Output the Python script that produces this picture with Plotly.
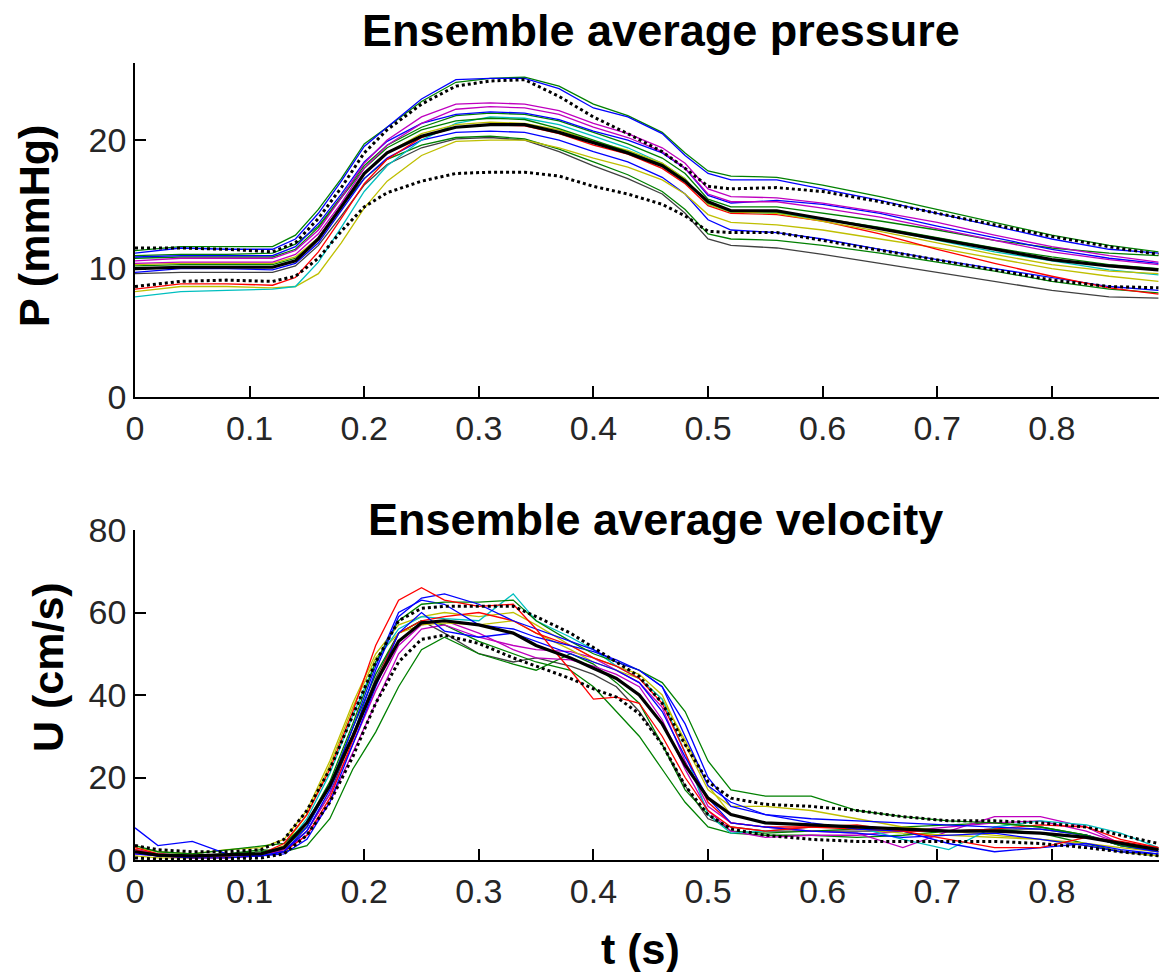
import plotly.graph_objects as go

# ---------------- data ----------------
# time grid for pressure curves (s)
t_p = [0, 0.04, 0.08, 0.12, 0.14, 0.16, 0.18, 0.20, 0.22, 0.25, 0.28, 0.31, 0.34, 0.37,
       0.40, 0.43, 0.46, 0.48, 0.50, 0.52, 0.56, 0.60, 0.65, 0.70, 0.75, 0.80, 0.85, 0.893]

p_blue1 = [11.2, 11.6, 11.5, 11.5, 12.3, 14.3, 16.8, 19.5, 21.0, 23.2, 24.7, 24.8, 24.8, 24.0,
           22.5, 21.8, 20.5, 18.8, 17.4, 16.9, 16.9, 16.2, 15.3, 14.3, 13.3, 12.3, 11.5, 11.2]
p_green1 = [11.4, 11.7, 11.7, 11.7, 12.6, 14.6, 17.0, 19.7, 21.0, 23.0, 24.5, 24.8, 24.9, 24.2,
            22.8, 21.9, 20.6, 19.0, 17.6, 17.2, 17.1, 16.5, 15.6, 14.6, 13.6, 12.6, 11.8, 11.3]
p_mag1 = [10.6, 10.8, 10.8, 10.8, 11.4, 13.0, 15.5, 18.2, 20.0, 21.8, 22.8, 22.9, 22.8, 22.3,
          21.3, 20.5, 19.4, 18.2, 16.2, 15.6, 15.5, 15.1, 14.4, 13.6, 12.6, 11.7, 11.0, 10.5]
p_mag2 = [10.4, 10.5, 10.5, 10.5, 11.1, 12.7, 15.1, 17.8, 19.6, 21.3, 22.4, 22.6, 22.5, 22.0,
          21.0, 20.2, 19.1, 17.8, 15.8, 15.2, 15.2, 14.7, 14.0, 13.1, 12.2, 11.3, 10.7, 10.3]
p_green2 = [11.0, 11.1, 11.1, 11.2, 11.9, 13.3, 15.6, 18.0, 19.6, 21.0, 21.9, 22.1, 22.0, 21.5,
            20.6, 19.7, 18.6, 17.4, 15.4, 14.8, 14.8, 14.3, 13.7, 13.0, 12.2, 11.6, 11.2, 11.0]
p_cyan1 = [7.8, 8.2, 8.3, 8.4, 8.6, 10.5, 13.2, 16.0, 18.0, 20.0, 21.3, 21.8, 21.7, 21.2,
           20.3, 19.4, 18.2, 17.0, 15.0, 14.4, 14.3, 13.8, 13.1, 12.2, 11.3, 10.6, 9.9, 9.5]
p_red1 = [8.4, 8.8, 8.8, 8.7, 9.3, 11.3, 13.9, 16.6, 18.5, 20.2, 21.0, 21.2, 21.1, 20.5,
          19.6, 18.9, 17.8, 16.6, 14.9, 14.3, 14.2, 13.7, 12.7, 11.5, 10.4, 9.4, 8.5, 8.0]
p_yel1 = [8.2, 8.6, 8.6, 8.5, 8.6, 9.6, 12.0, 14.7, 16.8, 18.8, 19.9, 20.0, 20.0, 19.4,
          18.6, 17.9, 16.9, 15.8, 14.2, 13.6, 13.4, 13.0, 12.3, 11.6, 10.8, 10.0, 9.4, 9.0]
p_blue2 = [9.7, 10.0, 10.0, 9.9, 10.4, 12.0, 14.5, 17.0, 18.6, 20.0, 20.6, 20.7, 20.6, 20.0,
           19.1, 18.3, 17.1, 15.8, 13.8, 13.0, 12.8, 12.3, 11.5, 10.7, 10.0, 9.3, 8.6, 8.3]
p_green3 = [10.2, 10.3, 10.3, 10.3, 10.8, 12.4, 14.8, 17.0, 18.5, 19.6, 20.2, 20.3, 20.1, 19.3,
            18.3, 17.3, 16.0, 14.6, 12.7, 12.3, 12.2, 11.8, 11.2, 10.5, 9.8, 9.0, 8.4, 8.1]
p_gray1 = [9.6, 9.7, 9.7, 9.7, 10.2, 11.8, 14.1, 16.5, 18.1, 19.4, 20.1, 20.2, 20.0, 19.1,
           18.0, 17.0, 15.8, 14.3, 12.3, 11.8, 11.6, 11.1, 10.4, 9.7, 9.0, 8.3, 7.8, 7.7]
p_green4 = [10.8, 10.9, 10.9, 10.9, 11.5, 13.2, 15.5, 17.8, 19.4, 20.8, 21.5, 21.7, 21.6, 20.9,
            20.0, 19.1, 18.1, 16.9, 15.1, 14.5, 14.4, 13.9, 13.2, 12.4, 11.6, 10.9, 10.3, 10.0]
p_blue3 = [10.9, 11.0, 11.0, 11.0, 11.7, 13.5, 15.8, 18.3, 19.9, 21.3, 22.0, 22.2, 22.1, 21.6,
           20.7, 20.0, 19.0, 17.8, 15.7, 15.1, 15.3, 15.0, 14.3, 13.3, 12.4, 11.5, 10.8, 10.4]
p_yel2 = [10.3, 10.4, 10.4, 10.4, 10.9, 12.4, 14.9, 17.4, 19.0, 20.5, 21.2, 21.4, 21.3, 20.8,
          19.9, 19.2, 18.2, 17.0, 15.0, 14.4, 14.3, 13.7, 12.9, 12.0, 11.1, 10.3, 9.8, 9.6]
p_mean = [10.0, 10.1, 10.1, 10.1, 10.6, 12.3, 14.8, 17.4, 19.0, 20.3, 21.0, 21.2, 21.2, 20.6,
          19.8, 19.0, 18.0, 16.8, 15.2, 14.5, 14.5, 13.9, 13.1, 12.3, 11.5, 10.7, 10.2, 9.9]
p_upper = [11.6, 11.6, 11.5, 11.3, 12.0, 13.9, 16.3, 19.0, 20.8, 22.8, 24.2, 24.6, 24.7, 23.4,
           21.8, 20.5, 19.1, 17.8, 16.4, 16.2, 16.3, 16.0, 15.2, 14.3, 13.4, 12.5, 11.7, 11.1]
p_lower = [8.6, 9.0, 9.1, 9.0, 9.4, 10.8, 12.9, 14.8, 15.9, 16.8, 17.4, 17.5, 17.5, 17.2,
           16.4, 15.8, 15.0, 14.1, 12.9, 12.8, 12.8, 12.2, 11.4, 10.7, 9.9, 9.1, 8.6, 8.5]

# time grid for velocity curves (s)
t_u = [0, 0.02, 0.05, 0.08, 0.11, 0.13, 0.15, 0.17, 0.19, 0.21, 0.23, 0.25, 0.27, 0.30,
       0.33, 0.35, 0.38, 0.40, 0.42, 0.44, 0.46, 0.48, 0.50, 0.52, 0.55, 0.59, 0.63, 0.67,
       0.71, 0.75, 0.79, 0.83, 0.86, 0.893]

u_red1 = [3.0, 1.5, 1.0, 1.0, 1.5, 4.0, 11.0, 22.0, 36.0, 52.0, 63.0, 66.0, 63.0, 61.5, 62.0,
          56.0, 46.0, 39.0, 39.5, 38.0, 30.0, 20.0, 12.0, 8.0, 7.0, 8.0, 8.5, 7.0, 5.0, 3.0,
          3.0, 5.5, 4.5, 3.0]
u_blue1 = [7.8, 3.5, 4.5, 1.5, 1.0, 2.0, 7.0, 17.0, 30.0, 46.0, 59.0, 63.5, 64.5, 62.0, 58.0,
           56.0, 53.0, 51.0, 48.0, 46.0, 42.0, 30.0, 18.0, 14.0, 11.0, 9.0, 7.5, 7.0, 4.0, 2.0,
           3.0, 4.0, 2.5, 1.5]
u_blue2 = [1.5, 1.0, 1.0, 1.0, 1.0, 2.0, 8.0, 18.0, 32.0, 47.0, 60.0, 63.0, 62.0, 57.0, 56.0,
           54.0, 52.0, 50.5, 48.5, 46.0, 42.0, 33.0, 20.0, 13.0, 11.0, 10.0, 9.5, 9.0, 8.5, 8.0,
           7.5, 6.0, 3.5, 2.0]
u_blue3 = [2.0, 1.0, 0.5, 0.5, 1.0, 1.5, 5.0, 14.0, 28.0, 42.0, 55.0, 60.0, 55.5, 54.0, 55.0,
           53.0, 50.0, 48.0, 46.0, 43.0, 36.0, 25.0, 15.0, 9.0, 8.0, 7.0, 6.5, 5.5, 6.0, 6.5,
           5.0, 3.5, 2.0, 1.5]
u_green1 = [3.5, 2.0, 1.5, 2.5, 3.5, 4.0, 9.0, 19.0, 33.0, 48.0, 58.0, 62.0, 62.5, 62.5, 63.0,
            58.0, 53.0, 50.0, 48.0, 46.0, 43.0, 36.0, 24.0, 17.0, 15.5, 15.5, 12.0, 10.5, 9.5,
            9.0, 8.0, 6.0, 3.5, 2.5]
u_green2 = [2.5, 1.5, 1.0, 1.5, 2.5, 2.0, 3.5, 10.0, 22.0, 31.0, 42.0, 51.0, 54.0, 50.0, 47.5,
            46.0, 50.0, 47.5, 43.0, 38.0, 28.0, 17.0, 11.0, 7.0, 6.5, 7.0, 7.5, 8.0, 8.5, 9.0,
            8.0, 6.0, 3.5, 2.0]
u_green3 = [2.0, 1.0, 1.0, 1.5, 2.0, 3.0, 8.0, 18.0, 32.0, 45.0, 55.0, 58.0, 57.0, 53.0, 50.0,
            48.0, 46.0, 42.0, 36.0, 30.0, 22.0, 14.0, 8.0, 6.5, 6.0, 6.0, 5.5, 6.0, 7.0, 7.5,
            6.5, 4.0, 2.0, 1.0]
u_cyan1 = [2.0, 1.0, 1.0, 1.0, 1.5, 3.0, 10.0, 21.0, 35.0, 48.0, 56.0, 59.0, 58.5, 58.0, 64.5,
           58.0, 54.0, 51.0, 47.0, 44.0, 39.0, 26.0, 11.0, 6.5, 7.0, 8.0, 8.0, 5.0, 2.5, 8.0,
           9.5, 8.5, 6.5, 3.0]
u_mag1 = [2.5, 1.5, 1.0, 1.0, 1.5, 2.5, 6.0, 14.0, 26.0, 38.0, 50.0, 56.0, 57.0, 54.0, 52.0,
          51.0, 50.5, 49.0, 46.0, 43.0, 37.0, 24.0, 13.0, 9.0, 8.0, 7.0, 6.5, 3.0, 7.0, 10.5,
          10.5, 8.0, 4.0, 2.5]
u_mag2 = [1.5, 1.0, 0.5, 1.0, 1.5, 2.0, 7.0, 16.0, 28.0, 41.0, 52.0, 57.0, 58.0, 55.0, 51.0,
          49.0, 48.5, 47.0, 45.0, 42.0, 34.0, 22.0, 12.0, 7.0, 5.5, 6.0, 6.0, 7.0, 8.0, 9.0,
          9.5, 7.0, 4.0, 2.0]
u_yel1 = [3.0, 2.0, 1.5, 2.5, 3.0, 5.0, 12.0, 24.0, 38.0, 50.0, 57.0, 59.0, 60.0, 59.0, 60.0,
          57.0, 52.0, 49.0, 47.0, 45.0, 40.0, 28.0, 17.0, 13.0, 13.0, 12.0, 10.0, 8.0, 7.0, 6.0,
          5.0, 4.0, 3.0, 2.0]
u_gray1 = [2.0, 1.0, 1.0, 1.0, 1.5, 2.5, 7.0, 16.0, 30.0, 44.0, 55.0, 58.0, 55.0, 50.0, 48.0,
           49.0, 47.0, 45.0, 42.0, 36.0, 28.0, 18.0, 10.0, 8.0, 7.0, 7.0, 7.0, 7.0, 7.0, 7.5,
           7.5, 6.0, 4.0, 2.5]
u_red2 = [2.5, 1.0, 0.5, 0.5, 1.0, 2.0, 6.0, 15.0, 29.0, 43.0, 55.0, 58.0, 59.0, 60.0, 58.0,
          55.0, 52.0, 49.0, 47.0, 44.0, 38.0, 26.0, 14.0, 9.0, 8.0, 8.0, 7.5, 7.0, 7.0, 7.5,
          8.5, 8.0, 5.0, 3.0]
u_yel2 = [1.0, 0.5, 0.5, 1.0, 1.5, 3.5, 11.0, 23.0, 37.0, 49.0, 55.0, 57.0, 57.5, 57.0, 58.0,
          55.0, 51.0, 48.0, 46.0, 44.0, 39.0, 29.0, 18.0, 11.0, 9.0, 8.5, 7.5, 6.5, 6.0, 5.5,
          5.0, 3.5, 2.0, 1.0]
u_mean = [2.0, 1.2, 1.0, 1.2, 1.5, 3.0, 9.0, 18.0, 30.0, 43.0, 53.0, 57.5, 58.0, 57.0, 55.0,
          52.0, 49.0, 46.5, 44.0, 40.0, 33.0, 23.0, 15.0, 11.0, 9.0, 8.5, 8.0, 7.5, 7.0, 7.0,
          6.5, 5.5, 4.0, 2.5]
u_upper = [3.5, 2.5, 2.0, 2.0, 2.5, 5.0, 12.0, 22.0, 35.0, 48.0, 58.0, 61.0, 61.5, 61.5, 61.5,
           59.0, 55.0, 51.5, 48.0, 44.5, 38.0, 28.0, 19.0, 15.0, 13.5, 13.0, 12.0, 10.5, 9.5,
           9.5, 9.0, 8.0, 6.0, 4.0]
u_lower = [0.5, 0.2, 0.2, 0.3, 0.5, 1.5, 6.0, 14.0, 25.0, 38.0, 48.0, 53.5, 54.5, 52.5, 49.0,
           47.0, 44.0, 41.5, 39.5, 35.5, 28.0, 18.0, 11.0, 7.5, 6.0, 5.0, 4.5, 4.5, 4.5, 4.5,
           4.0, 3.0, 2.0, 1.0]

x_ticks = [0, 0.1, 0.2, 0.3, 0.4, 0.5, 0.6, 0.7, 0.8]
x_ticktext = ["0", "0.1", "0.2", "0.3", "0.4", "0.5", "0.6", "0.7", "0.8"]
p_ticks = [0, 10, 20]
u_ticks = [0, 20, 40, 60, 80]

# ---------------- styling ----------------
B, G, R, C, M, Y, K = "#0000ff", "#008000", "#ff0000", "#00bfbf", "#bf00bf", "#bfbf00", "#404040"

p_series = [(p_gray1, K), (p_green3, G), (p_blue2, B), (p_yel1, Y), (p_red1, R), (p_cyan1, C),
            (p_yel2, Y), (p_green4, G), (p_green2, G), (p_blue3, B), (p_mag2, M), (p_mag1, M),
            (p_green1, G), (p_blue1, B)]
u_series = [(u_gray1, K), (u_green2, G), (u_green3, G), (u_mag1, M), (u_mag2, M), (u_yel1, Y),
            (u_yel2, Y), (u_cyan1, C), (u_red2, R), (u_blue3, B), (u_blue2, B), (u_green1, G),
            (u_blue1, B), (u_red1, R)]

fig = go.Figure()
for ys, col in p_series:
    fig.add_trace(go.Scatter(x=t_p, y=ys, mode="lines", line=dict(color=col, width=1.3),
                             xaxis="x", yaxis="y", showlegend=False))
fig.add_trace(go.Scatter(x=t_p, y=p_mean, mode="lines", line=dict(color="black", width=3.2),
                         xaxis="x", yaxis="y", showlegend=False))
for ys in (p_upper, p_lower):
    fig.add_trace(go.Scatter(x=t_p, y=ys, mode="lines",
                             line=dict(color="black", width=3, dash="dot"),
                             xaxis="x", yaxis="y", showlegend=False))

for ys, col in u_series:
    fig.add_trace(go.Scatter(x=t_u, y=ys, mode="lines", line=dict(color=col, width=1.3),
                             xaxis="x2", yaxis="y2", showlegend=False))
fig.add_trace(go.Scatter(x=t_u, y=u_mean, mode="lines", line=dict(color="black", width=3.2),
                         xaxis="x2", yaxis="y2", showlegend=False))
for ys in (u_upper, u_lower):
    fig.add_trace(go.Scatter(x=t_u, y=ys, mode="lines",
                             line=dict(color="black", width=3, dash="dot"),
                             xaxis="x2", yaxis="y2", showlegend=False))

W, H = 1159, 972
FONT = "Liberation Sans, Arial, sans-serif"
tickfont = dict(family=FONT, size=34, color="#262626")

def px_x(p):
    return p / W

def px_y(p):
    return 1 - p / H

axis_common = dict(showline=True, linecolor="black", linewidth=1.6, ticks="inside",
                   ticklen=11, tickwidth=1.6, tickcolor="black", showgrid=False,
                   zeroline=False, tickfont=tickfont, automargin=False, mirror=False)

fig.update_layout(
    width=W, height=H, template="none",
    paper_bgcolor="white", plot_bgcolor="white",
    margin=dict(l=0, r=0, t=0, b=0),
    xaxis=dict(domain=[px_x(135), 1.0], range=[0, 0.8935], anchor="y",
               tickvals=x_ticks, ticktext=x_ticktext, **axis_common),
    yaxis=dict(domain=[px_y(397), px_y(63)], range=[0, 26], anchor="x",
               tickvals=p_ticks, **axis_common),
    xaxis2=dict(domain=[px_x(135), 1.0], range=[0, 0.8935], anchor="y2",
                tickvals=x_ticks, ticktext=x_ticktext, **axis_common),
    yaxis2=dict(domain=[px_y(860), px_y(530)], range=[0, 80], anchor="x2",
                tickvals=u_ticks, **axis_common),
)

bold = dict(family=FONT, size=44, color="black", weight="bold")
fig.add_annotation(text="<b>Ensemble average pressure</b>", x=px_x(661), y=px_y(31),
                   xref="paper", yref="paper", showarrow=False, xanchor="center",
                   yanchor="middle", font=dict(family=FONT, size=45, color="black"))
fig.add_annotation(text="<b>Ensemble average velocity</b>", x=px_x(655), y=px_y(519),
                   xref="paper", yref="paper", showarrow=False, xanchor="center",
                   yanchor="middle", font=dict(family=FONT, size=45, color="black"))
fig.add_annotation(text="<b>P (mmHg)</b>", x=px_x(34), y=px_y(226), xref="paper",
                   yref="paper", showarrow=False, textangle=-90, xanchor="center",
                   yanchor="middle", font=dict(family=FONT, size=43, color="black"))
fig.add_annotation(text="<b>U (cm/s)</b>", x=px_x(48), y=px_y(667), xref="paper",
                   yref="paper", showarrow=False, textangle=-90, xanchor="center",
                   yanchor="middle", font=dict(family=FONT, size=43, color="black"))
fig.add_annotation(text="<b>t (s)</b>", x=px_x(640), y=px_y(949), xref="paper",
                   yref="paper", showarrow=False, xanchor="center", yanchor="middle",
                   font=dict(family=FONT, size=43, color="black"))

fig.write_html("out.html")
